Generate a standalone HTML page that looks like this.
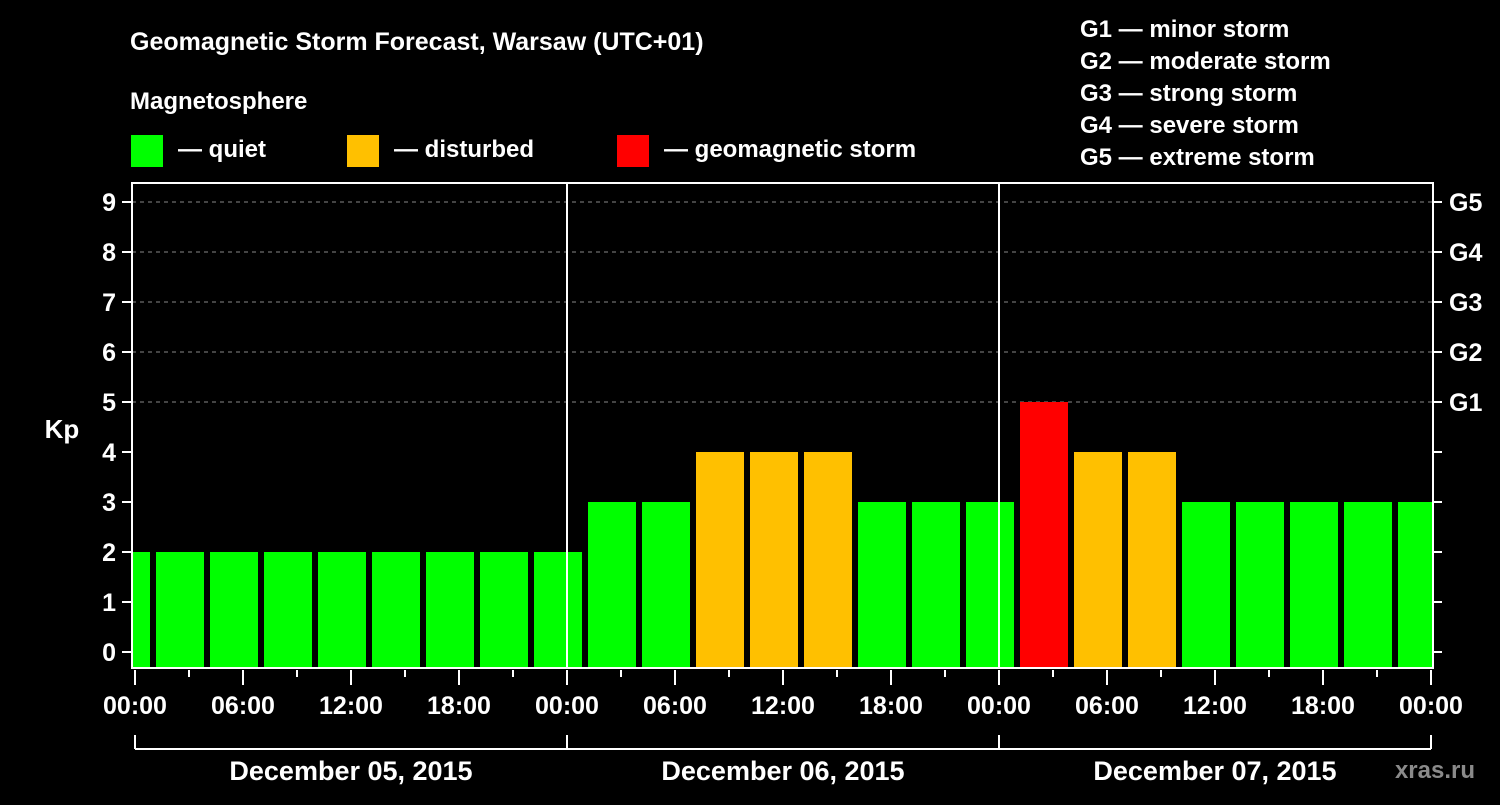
<!DOCTYPE html>
<html><head><meta charset="utf-8"><style>
html,body{margin:0;padding:0;background:#000;}
svg text{font-family:"Liberation Sans",sans-serif;font-weight:bold;fill:#fff;}
</style></head><body>
<svg id="chart" width="1500" height="800" viewBox="0 0 1500 800">
<rect x="0" y="0" width="1500" height="800" fill="#000"/>
<text x="130" y="50" font-size="25">Geomagnetic Storm Forecast, Warsaw (UTC+01)</text>
<text x="130" y="109" font-size="24">Magnetosphere</text>
<g><rect x="131" y="135" width="32" height="32" fill="#00ff00"/><text x="178" y="157" font-size="24">— quiet</text></g>
<g><rect x="347" y="135" width="32" height="32" fill="#ffc000"/><text x="394" y="157" font-size="24">— disturbed</text></g>
<g><rect x="617" y="135" width="32" height="32" fill="#ff0000"/><text x="664" y="157" font-size="24">— geomagnetic storm</text></g>
<g font-size="24">
<text x="1080" y="37">G1 — minor storm</text>
<text x="1080" y="69">G2 — moderate storm</text>
<text x="1080" y="101">G3 — strong storm</text>
<text x="1080" y="133">G4 — severe storm</text>
<text x="1080" y="165">G5 — extreme storm</text>
</g>
<defs><clipPath id="pc"><rect x="132" y="183" width="1300" height="485"/></clipPath></defs>
<g id="grid"></g>
<g id="bars" clip-path="url(#pc)"></g>
<g id="axes"></g>
<text x="62" y="438" font-size="26" text-anchor="middle">Kp</text>
<text x="1475" y="778" font-size="24" text-anchor="end" fill="#888" style="fill:#8a8a8a">xras.ru</text>
</svg>
<script>
const binCenters = [-0.5,2.5,5.5,8.5,11.5,14.5,17.5,20.5,23.5,26.5,29.5,32.5,35.5,38.5,41.5,44.5,47.5,50.5,53.5,56.5,59.5,62.5,65.5,68.5,71.5];
const kpValues = [2,2,2,2,2,2,2,2,2,3,3,4,4,4,3,3,3,5,4,4,3,3,3,3,3];
const hourTickLabels = ["00:00","06:00","12:00","18:00","00:00","06:00","12:00","18:00","00:00","06:00","12:00","18:00","00:00"];
const dayLabels = ["December 05, 2015","December 06, 2015","December 07, 2015"];
const kpTicks = [0,1,2,3,4,5,6,7,8,9];
const stormLabels = ["G1","G2","G3","G4","G5"];

const NS="http://www.w3.org/2000/svg";
const X0=135, PXH=18, Y0=652, PXK=50, LEFT=132, RIGHT=1433, TOP=183, BOTTOM=668;
const xs=h=>X0+h*PXH, ys=k=>Y0-k*PXK;
function mk(tag,attrs,parent){const e=document.createElementNS(NS,tag);for(const k in attrs)e.setAttribute(k,attrs[k]);parent.appendChild(e);return e;}
const grid=document.getElementById('grid'),bars=document.getElementById('bars'),axes=document.getElementById('axes');
function color(k){return k>=5?'#ff0000':(k>=4?'#ffc000':'#00ff00');}

kpTicks.forEach(k=>{
  if(k>=5){const l=mk('line',{x1:LEFT,x2:RIGHT,y1:ys(k),y2:ys(k),stroke:'#888','stroke-dasharray':'4,4','stroke-width':1},grid);
  
  }
});
binCenters.forEach((c,i)=>{
  const k=kpValues[i];
  const r=mk('rect',{x:xs(c)-24,y:ys(k),width:48,height:BOTTOM-ys(k),fill:color(k)},bars);
  
  
});
// frame
const fr=mk('rect',{x:LEFT,y:TOP,width:RIGHT-LEFT,height:BOTTOM-TOP,fill:'none',stroke:'#fff','stroke-width':2},axes);


[24,48].forEach(h=>{
  const l=mk('line',{x1:xs(h),x2:xs(h),y1:TOP,y2:BOTTOM,stroke:'#fff','stroke-width':2},axes);
  
  
});
kpTicks.forEach(k=>{
  mk('line',{x1:122,x2:LEFT,y1:ys(k),y2:ys(k),stroke:'#fff','stroke-width':2},axes);
  mk('line',{x1:RIGHT,x2:1442,y1:ys(k),y2:ys(k),stroke:'#fff','stroke-width':2},axes);
  const t=mk('text',{x:116,y:ys(k)+9,'font-size':25,'text-anchor':'end'},axes);
  t.textContent=k;
  
  
});
stormLabels.forEach((g,i)=>{
  const t=mk('text',{x:1449,y:ys(5+i)+9,'font-size':25},axes);
  t.textContent=g;
  
  
});
for(let h=0;h<=72;h+=3){
  mk('line',{x1:xs(h),x2:xs(h),y1:BOTTOM+2,y2:h%6===0?685:677,stroke:'#fff','stroke-width':2},axes);
}
hourTickLabels.forEach((s,i)=>{
  const t=mk('text',{x:xs(i*6),y:714,'font-size':25,'text-anchor':'middle'},axes);
  t.textContent=s;
  
  
});
mk('line',{x1:xs(0),x2:xs(72),y1:749,y2:749,stroke:'#fff','stroke-width':2},axes);
[0,24,48,72].forEach(h=>mk('line',{x1:xs(h),x2:xs(h),y1:735,y2:749,stroke:'#fff','stroke-width':2},axes));
dayLabels.forEach((s,i)=>{
  const t=mk('text',{x:xs(i*24+12),y:780,'font-size':27,'text-anchor':'middle'},axes);
  t.textContent=s;
  
  
});
</script>
</body></html>
